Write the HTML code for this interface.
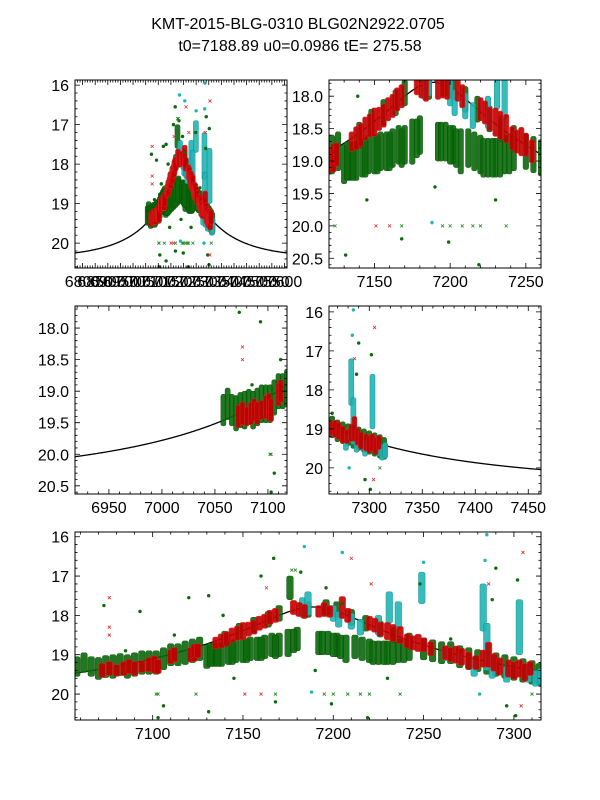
<!DOCTYPE html>
<html><head><meta charset="utf-8"><style>
html,body{margin:0;padding:0;background:#fff;}
svg{display:block;font-family:"Liberation Sans","DejaVu Sans",sans-serif;}
</style></head><body>
<svg id="fig" width="600" height="800" viewBox="0 0 600 800" xmlns="http://www.w3.org/2000/svg">
<rect width="600" height="800" fill="#fff"/>
<text x="298" y="29" text-anchor="middle" font-size="16">KMT-2015-BLG-0310 BLG02N2922.0705</text>
<text x="300" y="51" text-anchor="middle" font-size="16">t0=7188.89 u0=0.0986 tE= 275.58</text>
</svg>
<script>
// model parameters
const t0 = 7188.89, u0 = 0.0986, tE = 275.58, fsModel = 1.09, mBase = 20.39;
// red observatory nightly clusters: time, mag, half-spread
const redT = [7072,7076,7080,7084,7087,7090,7094,7098,7101,7103,7110,7112,7121,7123,7125,7135,7138,7141,7144,7147,7150,7153,7156,7159,7162,7165,7168,7178,7181,7184,7192,7195,7198,7205,7208,7220,7223,7226,7230,7233,7237,7241,7244,7247,7250,7254,7262,7265,7268,7271,7275,7279,7283,7286,7289,7292,7297,7300,7303,7306,7309];
const redM = [19.4,19.35,19.4,19.35,19.3,19.35,19.3,19.25,19.25,19.3,19.05,19.0,19.0,18.95,18.9,18.7,18.65,18.6,18.5,18.45,18.4,18.35,18.3,18.2,18.15,18.05,18.0,17.8,17.85,17.9,17.9,17.85,17.9,17.8,18.0,18.2,18.25,18.35,18.4,18.45,18.5,18.65,18.7,18.7,18.75,18.85,18.95,19.0,19.0,19.05,19.15,19.2,19.1,19.0,19.2,19.3,19.35,19.4,19.35,19.45,19.35];
const redH = [.18,.18,.15,.18,.18,.18,.15,.18,.22,.18,.18,.18,.18,.22,.18,.15,.18,.18,.18,.18,.22,.18,.18,.18,.18,.18,.18,.18,.18,.18,.15,.18,.15,.28,.18,.18,.18,.18,.22,.22,.22,.18,.18,.22,.18,.18,.18,.18,.22,.22,.22,.18,.22,.32,.22,.22,.22,.22,.22,.22,.18];
// green observatory nightly clusters
const greenT = [7058,7062,7066,7070,7074,7078,7082,7086,7090,7094,7098,7102,7106,7110,7114,7118,7122,7126,7130,7134,7138,7142,7146,7150,7154,7158,7162,7166,7170,7175,7180,7140,7148,7156,7164,7170,7176,7186,7196,7202,7210,7218,7226,7234,7242,7192,7197,7202,7207,7212,7216,7220,7225,7230,7236,7242,7250,7255,7260,7265,7270,7275,7280,7285,7290,7295,7300,7305,7310,7314,7132,7136,7144,7152,7160,7168,7178,7194,7200,7204,7222,7228,7233,7239];
const greenM = [19.3,19.2,19.3,19.35,19.3,19.3,19.25,19.3,19.25,19.2,19.2,19.2,19.1,19.0,19.0,18.95,18.9,18.85,19.05,19.0,19.0,18.95,18.9,18.9,18.85,18.85,18.8,18.75,18.75,18.7,18.6,18.6,18.4,18.25,18.1,17.95,17.3,17.85,17.8,17.85,18.05,18.2,18.35,18.5,18.65,18.7,18.7,18.75,18.85,18.8,18.85,18.9,18.95,18.95,18.9,18.9,18.85,18.9,18.95,18.95,19.05,19.1,19.15,19.2,19.25,19.3,19.35,19.4,19.45,19.5,19.0,19.0,18.95,18.9,18.85,18.8,18.65,18.7,18.75,18.8,18.95,18.95,18.95,18.9];
const greenH = [.25,.25,.25,.28,.28,.3,.28,.3,.3,.3,.3,.3,.28,.28,.28,.3,.3,.3,.3,.3,.3,.3,.3,.3,.3,.3,.3,.3,.3,.35,.3,.2,.2,.2,.2,.2,.3,.2,.2,.2,.2,.2,.2,.2,.2,.3,.3,.3,.35,.3,.3,.3,.3,.3,.3,.25,.28,.28,.28,.28,.28,.28,.28,.3,.3,.3,.3,.3,.3,.28,.3,.3,.3,.3,.3,.3,.3,.3,.3,.3,.3,.3,.3,.3];
// cyan observatory nightly clusters
const cyanT = [7183,7186,7200,7203,7210,7215,7225,7231,7236,7249,7262,7270,7278,7283,7285,7288,7296,7303,7308,7312,7315];
const cyanM = [17.8,17.7,17.95,18.1,18.15,18.3,18.25,17.8,18.0,17.3,19.0,19.1,19.35,17.8,18.8,19.3,19.5,18.3,19.5,19.6,19.55];
const cyanH = [.25,.3,.2,.2,.2,.2,.25,.4,.35,.4,.15,.15,.2,.6,.6,.3,.2,.7,.2,.2,.2];
// individual outlier points
const outGreenT = [7073,7093,7103,7106,7120,7131,7131,7139,7167,7168,7160,7182,7196,7199,7205,7219,7296,7301,7290,7302,7248,7085,7112,7145,7190,7230,7265,7288];
const outGreenM = [17.75,17.9,20.6,20.3,17.55,20.45,17.5,18.0,16.55,20.2,17.0,16.9,17.3,20.25,17.7,20.6,20.3,20.55,16.8,17.1,17.2,18.9,18.5,19.6,19.4,19.6,18.6,17.6];
const outGreenXT = [7102,7103,7124,7168,7195,7200,7208,7215,7220,7237,7310,7177,7179];
const outGreenXM = [20.0,20.0,20.0,20.0,20.0,20.0,20.0,20.0,20.0,20.0,20.0,16.85,16.85];
const outRedT = [7076,7076,7076,7163,7210,7221,7305,7304,7151,7160,7286];
const outRedM = [17.55,18.3,18.5,17.3,16.55,17.2,16.4,20.3,20.0,20.0,17.2];
const outCyanT = [7184,7205,7250,7285,7284,7188,7281];
const outCyanM = [16.25,16.4,16.65,15.95,16.6,19.95,20.0];
// panel tick labels
const p1XTicks = [6800,6850,6900,6950,7000,7050,7100,7150,7200,7250,7300,7350,7400,7450,7500,7550,7600];
const p1YTicks = [16,17,18,19,20];
const p2XTicks = [7150,7200,7250];
const p2YTicks = [18.0,18.5,19.0,19.5,20.0,20.5];
const p3XTicks = [6950,7000,7050,7100];
const p3YTicks = [18.0,18.5,19.0,19.5,20.0,20.5];
const p4XTicks = [7300,7350,7400,7450];
const p4YTicks = [16,17,18,19,20];
const p5XTicks = [7100,7150,7200,7250,7300];
const p5YTicks = [16,17,18,19,20];

const NS = "http://www.w3.org/2000/svg";
const svg = document.getElementById('fig');
function mk(tag, attrs, parent){
  const e = document.createElementNS(NS, tag);
  for (const k in attrs) e.setAttribute(k, attrs[k]);
  (parent||svg).appendChild(e); return e;
}
function modelMag(t){
  const tau = (t - t0)/tE;
  const u = Math.sqrt(u0*u0 + tau*tau);
  const A = (u*u+2)/(u*Math.sqrt(u*u+4));
  return mBase - 2.5*Math.log10(1 + fsModel*(A-1));
}

const panels = [
  {name:'panel-overview', x:75,y:80,w:212,h:188, t0:6770,t1:7610, m0:15.87,m1:20.63, xt:p1XTicks, yt:p1YTicks, xMinor:10, yMinor:0.2, dec:0},
  {name:'panel-peak', x:329,y:80,w:212,h:188, t0:7120,t1:7260, m0:17.75,m1:20.65, xt:p2XTicks, yt:p2YTicks, xMinor:10, yMinor:0.1, dec:1},
  {name:'panel-rise', x:75,y:306,w:212,h:188, t0:6918,t1:7118, m0:17.65,m1:20.63, xt:p3XTicks, yt:p3YTicks, xMinor:10, yMinor:0.1, dec:1},
  {name:'panel-decline', x:329,y:306,w:212,h:188, t0:7262,t1:7462, m0:15.85,m1:20.67, xt:p4XTicks, yt:p4YTicks, xMinor:10, yMinor:0.2, dec:0},
  {name:'panel-full-season', x:75,y:532,w:466,h:188, t0:7057,t1:7315, m0:15.88,m1:20.66, xt:p5XTicks, yt:p5YTicks, xMinor:10, yMinor:0.2, dec:0}
];

panels.forEach((p, i) => {
  const xs = t => p.x + (t - p.t0)/(p.t1 - p.t0)*p.w;
  const ys = m => p.y + (m - p.m0)/(p.m1 - p.m0)*p.h;
  const g = mk('g', {});
  
  
  const cid = 'clip' + i;
  const cp = mk('clipPath', {id: cid}, g);
  mk('rect', {x:p.x, y:p.y, width:p.w, height:p.h}, cp);
  const plot = mk('g', {'clip-path': 'url(#' + cid + ')'}, g);

  let d = '';
  const n = 300;
  for (let k = 0; k <= n; k++) {
    const t = p.t0 + (p.t1 - p.t0)*k/n;
    d += (k ? 'L' : 'M') + xs(t).toFixed(2) + ' ' + ys(modelMag(t)).toFixed(2);
  }
  const ml = mk('path', {d: d, fill:'none', stroke:'#000', 'stroke-width':1.3}, plot);
  
  

  const pxPerDay = p.w/(p.t1 - p.t0);
  function clusters(T, M, H, fill, stroke, nm) {
    for (let k = 0; k < T.length; k++) {
      const w = Math.max(5, 3.6*pxPerDay);
      const y0 = ys(M[k] - H[k]), y1 = ys(M[k] + H[k]);
      const r = mk('rect', {x: xs(T[k]) - w/2, y: y0, width: w, height: Math.max(3, y1 - y0), rx: 2, fill: fill, stroke: stroke, 'stroke-width': 0.6, opacity: 0.9}, plot);
      
      
    }
  }
  function dots(T, M, fill, nm) {
    for (let k = 0; k < T.length; k++) {
      const c = mk('circle', {cx: xs(T[k]), cy: ys(M[k]), r: 1.7, fill: fill}, plot);
      
      
    }
  }
  function crosses(T, M, col, nm) {
    for (let k = 0; k < T.length; k++) {
      const x = xs(T[k]), y = ys(M[k]);
      const c = mk('path', {d: `M${x-1.5} ${y-1.5}L${x+1.5} ${y+1.5}M${x-1.5} ${y+1.5}L${x+1.5} ${y-1.5}`, stroke: col, 'stroke-width': 0.8}, plot);
      
      
    }
  }
  clusters(greenT, greenM, greenH, '#0b6a0b', '#045004', 'green-data-cluster');
  clusters(cyanT, cyanM, cyanH, '#22b5b5', '#0a9090', 'cyan-data-cluster');
  clusters(redT, redM, redH, '#c00000', '#e02020', 'red-data-cluster');
  dots(outGreenT, outGreenM, '#0b6a0b', 'green-outlier');
  crosses(outGreenXT, outGreenXM, '#1a8a1a', 'green-x-outlier');
  crosses(outRedT, outRedM, '#e03030', 'red-x-outlier');
  dots(outCyanT, outCyanM, '#22b5b5', 'cyan-outlier');

  const fr = mk('rect', {x:p.x, y:p.y, width:p.w, height:p.h, fill:'none', stroke:'#000', 'stroke-width':1}, g);
  
  

  let td = '';
  const xa = Math.ceil(p.t0/p.xMinor)*p.xMinor;
  for (let t = xa; t <= p.t1; t += p.xMinor) {
    const x = xs(t);
    const major = Math.abs(t/50 - Math.round(t/50)) < 1e-6;
    const L = major ? 5 : 2.5;
    td += `M${x} ${p.y+p.h}v${-L}M${x} ${p.y}v${L}`;
  }
  const ya = Math.ceil(p.m0/p.yMinor - 1e-6)*p.yMinor;
  const majStep = p.dec ? 0.5 : 1;
  for (let m = ya; m <= p.m1; m += p.yMinor) {
    const y = ys(m);
    const major = Math.abs(m/majStep - Math.round(m/majStep)) < 1e-4;
    const L = major ? 5 : 2.5;
    td += `M${p.x} ${y}h${L}M${p.x+p.w} ${y}h${-L}`;
  }
  mk('path', {d: td, stroke:'#000', 'stroke-width':0.8, fill:'none'}, g);

  p.xt.forEach(t => {
    const tx = mk('text', {x: xs(t), y: p.y + p.h + 19, 'text-anchor':'middle', 'font-size':16}, g);
    tx.textContent = String(t);
    
    
  });
  p.yt.forEach(m => {
    const tx = mk('text', {x: p.x - 6, y: ys(m) + 6, 'text-anchor':'end', 'font-size':16}, g);
    tx.textContent = p.dec ? m.toFixed(1) : String(m);
    
    
  });
});
</script>
</body></html>
